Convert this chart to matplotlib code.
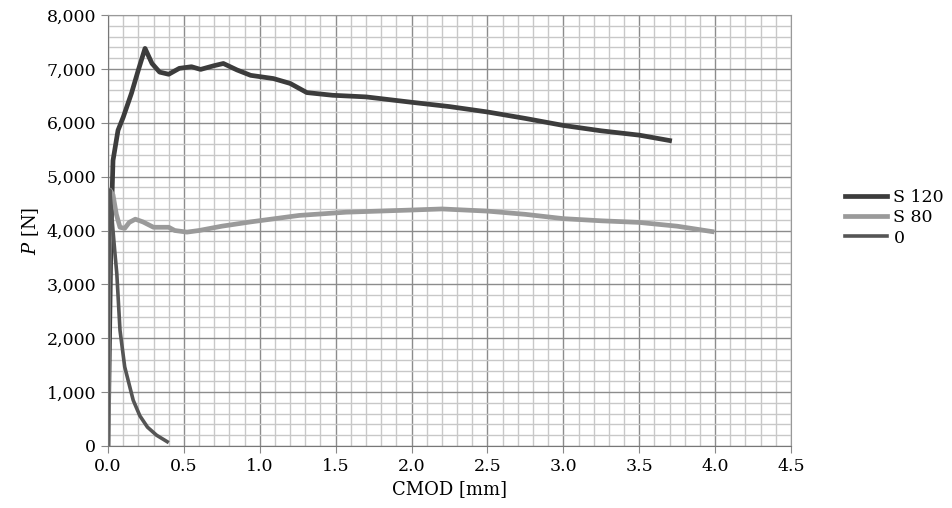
import matplotlib.pyplot as plt
from matplotlib.ticker import MultipleLocator, FuncFormatter

# CMOD [mm] and P [N]
s120_cmod = [0.0, 0.01, 0.02, 0.033, 0.066, 0.10, 0.155, 0.20, 0.244, 0.29,
             0.34, 0.40, 0.47, 0.55, 0.61, 0.70, 0.76, 0.85, 0.94, 1.09,
             1.20, 1.31, 1.48, 1.70, 2.00, 2.25, 2.50, 2.75, 3.00, 3.25,
             3.50, 3.70]
s120_p = [0, 2000, 4000, 5300, 5860, 6100, 6550, 6980, 7380, 7100,
          6940, 6900, 7010, 7040, 6990, 7060, 7100, 6980, 6880, 6820,
          6730, 6560, 6510, 6480, 6380, 6300, 6200, 6080, 5950, 5850,
          5770, 5670]

s80_cmod = [0.0, 0.005, 0.013, 0.033, 0.055, 0.079, 0.11, 0.14, 0.18, 0.23,
            0.30, 0.40, 0.44, 0.52, 0.60, 0.75, 0.94, 1.26, 1.57, 2.00,
            2.20, 2.50, 2.75, 3.00, 3.25, 3.50, 3.75, 3.98]
s80_p = [0, 3000, 4750, 4660, 4300, 4060, 4040, 4150, 4210, 4160,
         4060, 4060, 4000, 3970, 4000, 4080, 4160, 4280, 4340, 4380,
         4400, 4360, 4300, 4220, 4180, 4150, 4080, 3980]

zero_cmod = [0.0, 0.005, 0.012, 0.03, 0.045, 0.058, 0.079, 0.11, 0.166,
             0.21, 0.26, 0.32, 0.39]
zero_p = [0, 3000, 4750, 4100, 3600, 3200, 2150, 1470, 850, 560, 350,
          200, 80]

series = [
    ("S 120", s120_cmod, s120_p, "#3c3c3c", 3.4),
    ("S 80", s80_cmod, s80_p, "#9a9a9a", 3.4),
    ("0", zero_cmod, zero_p, "#555555", 2.6),
]

plt.rcParams['font.family'] = ['DejaVu Serif']
plt.rcParams['mathtext.fontset'] = 'dejavuserif'

fig = plt.figure(figsize=(9.53, 5.08), dpi=100)
ax = fig.add_axes([108 / 953, 1 - 446 / 508, (791 - 108) / 953, (446 - 15) / 508])

for label, x, y, color, lw in series:
    ax.plot(x, y, color=color, lw=lw, label=label, solid_joinstyle='round')

ax.set_xlim(0, 4.5)
ax.set_ylim(0, 8000)
ax.xaxis.set_major_locator(MultipleLocator(0.5))
ax.xaxis.set_minor_locator(MultipleLocator(0.1))
ax.yaxis.set_major_locator(MultipleLocator(1000))
ax.yaxis.set_minor_locator(MultipleLocator(200))
ax.xaxis.set_major_formatter(FuncFormatter(lambda v, p: f"{v:.1f}"))
ax.yaxis.set_major_formatter(FuncFormatter(lambda v, p: f"{int(v):,}"))

ax.grid(which='major', color='#8c8c8c', lw=1.0)
ax.grid(which='minor', color='#c8c8c8', lw=1.0)
ax.set_axisbelow(True)
ax.tick_params(which='major', length=5, color='#888888', labelsize=12.5)
ax.tick_params(which='minor', length=0)
for s in ax.spines.values():
    s.set_color('#999999')
for s in ('left', 'bottom'):
    ax.spines[s].set_color('#777777')

ax.set_xlabel("CMOD [mm]", fontsize=13)
ax.set_ylabel("$P$ [N]", fontsize=13)

ax.legend(loc='center left', bbox_to_anchor=(1.056, 0.53), frameon=False,
          fontsize=12.5, handlelength=2.4, handletextpad=0.4, labelspacing=0.2)

fig.savefig("out.png", dpi=100)
